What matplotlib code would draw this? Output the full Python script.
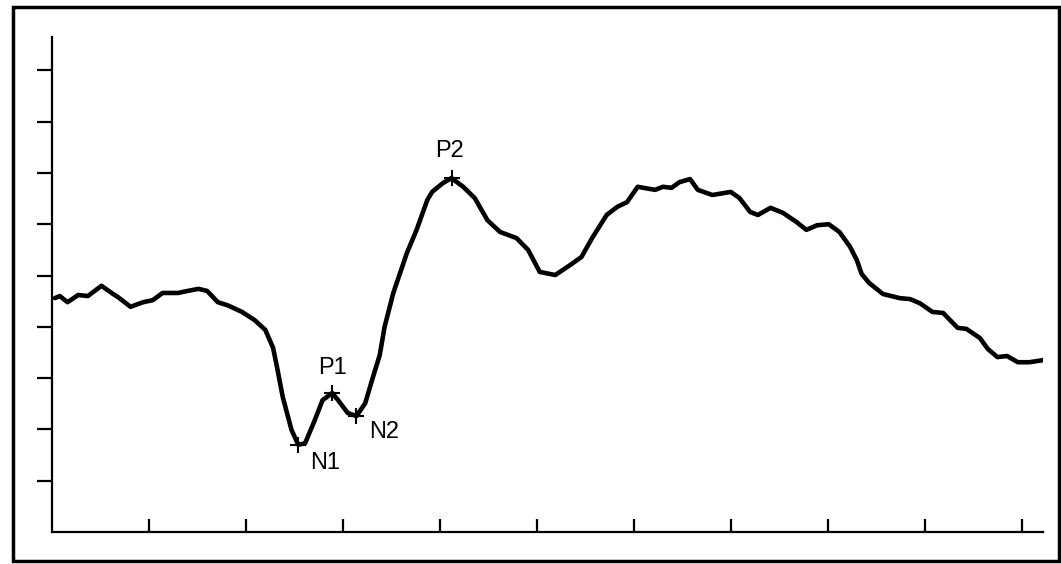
import matplotlib
matplotlib.use("Agg")
import matplotlib.pyplot as plt
from matplotlib.patches import Rectangle

# Waveform (time units: 10 per x tick; amplitude units: 1 per y tick)
time = [0.3, 0.8, 1.6, 2.7, 3.7, 5.1, 6.3, 6.8, 8.1, 9.4, 10.4, 11.4, 13.0, 14.0,
        15.1, 16.0, 17.1, 18.1, 19.6, 20.9, 22.0, 22.8, 23.2, 23.8, 24.7, 25.4,
        26.1, 27.1, 27.9, 28.9, 29.5, 30.5, 31.4, 32.3, 33.1, 33.8, 34.3, 35.2,
        36.6, 37.6, 38.7, 39.2, 40.3, 41.2, 42.4, 43.6, 44.9, 46.2, 47.9, 49.1,
        50.3, 51.9, 53.4, 54.6, 55.7, 57.2, 58.3, 59.3, 60.4, 62.2, 63.0, 63.9,
        64.7, 65.8, 66.6, 68.1, 70.0, 70.9, 72.0, 72.8, 74.1, 75.4, 76.8, 77.8,
        78.9, 80.1, 81.2, 82.3, 83.0, 83.5, 84.3, 85.7, 87.4, 88.5, 89.5, 90.8,
        91.9, 93.4, 94.3, 95.7, 96.5, 97.5, 98.5, 99.6, 100.8, 102.2]
amplitude = [4.56, 4.60, 4.48, 4.62, 4.60, 4.80, 4.64, 4.58, 4.39, 4.48, 4.52, 4.66,
             4.66, 4.70, 4.74, 4.70, 4.48, 4.42, 4.29, 4.13, 3.94, 3.59, 3.22, 2.63,
             1.99, 1.70, 1.73, 2.18, 2.57, 2.71, 2.57, 2.32, 2.26, 2.51, 3.02, 3.45,
             4.00, 4.66, 5.44, 5.89, 6.47, 6.63, 6.80, 6.90, 6.73, 6.51, 6.08, 5.85,
             5.73, 5.50, 5.07, 5.01, 5.20, 5.36, 5.73, 6.18, 6.34, 6.43, 6.73, 6.67,
             6.73, 6.71, 6.82, 6.88, 6.67, 6.57, 6.63, 6.51, 6.24, 6.18, 6.32, 6.22,
             6.04, 5.89, 5.98, 6.00, 5.85, 5.56, 5.30, 5.03, 4.85, 4.64, 4.56, 4.54,
             4.46, 4.29, 4.27, 3.98, 3.96, 3.78, 3.57, 3.41, 3.43, 3.31, 3.31, 3.35]

peak_labels = ["N1", "P1", "N2", "P2"]
peak_time = [25.4, 28.9, 31.4, 41.2]
peak_amp = [1.70, 2.71, 2.26, 6.90]
label_offsets_px = [(27, -18), (0, 25), (28, -16), (-2, 27)]

x_ticks = [10, 20, 30, 40, 50, 60, 70, 80, 90, 100]
y_ticks = [1, 2, 3, 4, 5, 6, 7, 8, 9]

plt.rcParams['font.family'] = ['Liberation Sans', 'DejaVu Sans']

W, H = 1061, 564
fig = plt.figure(figsize=(W / 100, H / 100), dpi=100)
ax = fig.add_axes([52 / W, 32 / H, 991 / W, 495 / H])

ax.plot(time, amplitude, color='black', lw=3.3, solid_joinstyle='round',
        solid_capstyle='round')
ax.plot(peak_time, peak_amp, linestyle='none', marker='+', color='black',
        markersize=11, markeredgewidth=1.5)
for lab, tx, ty, off in zip(peak_labels, peak_time, peak_amp, label_offsets_px):
    ax.annotate(lab, (tx, ty), xytext=off, textcoords='offset pixels',
                ha='center', va='center', fontsize=17, color='black')

ax.set_xlim(0, 102.2)
ax.set_ylim(0, 9.65)
ax.set_xticks(x_ticks)
ax.set_yticks(y_ticks)
ax.set_xticklabels([])
ax.set_yticklabels([])
ax.tick_params(axis='x', direction='in', length=9.5, width=1.6, color='black')
ax.tick_params(axis='y', direction='out', length=11, width=1.6, color='black')
for s in ['top', 'right']:
    ax.spines[s].set_visible(False)
for s in ['left', 'bottom']:
    ax.spines[s].set_linewidth(1.6)
    ax.spines[s].set_color('black')

frame = Rectangle((13 / W, (H - 561) / H), (1059 - 13) / W, (561 - 6.5) / H,
                  transform=fig.transFigure, fill=False, edgecolor='black',
                  linewidth=2.5)
fig.patches.append(frame)

fig.savefig('out.png', dpi=100, facecolor='white')
